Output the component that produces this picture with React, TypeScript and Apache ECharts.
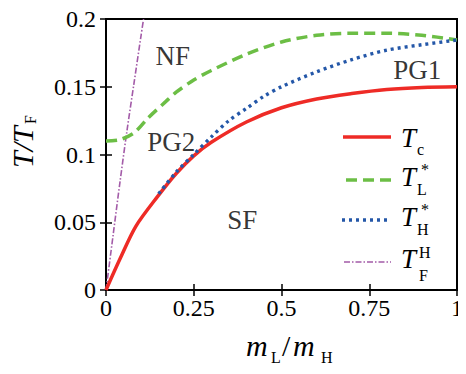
import React, { useEffect, useRef } from "react";
import * as echarts from "echarts";

const xTicks = [0, 0.25, 0.5, 0.75, 1];
const yTicks = [0, 0.05, 0.1, 0.15, 0.2];

const tcData: [number, number][] = [
  [0, 0], [0.04, 0.023], [0.085, 0.047], [0.15, 0.07], [0.2, 0.086], [0.25, 0.099],
  [0.3, 0.109], [0.4, 0.124], [0.5, 0.1345], [0.6, 0.141], [0.7, 0.145],
  [0.8, 0.148], [0.9, 0.1495], [1.0, 0.15],
];
const tlData: [number, number][] = [
  [0, 0.11], [0.04, 0.111], [0.08, 0.116], [0.12, 0.127], [0.17, 0.139], [0.2, 0.146], [0.25, 0.155],
  [0.3, 0.162], [0.4, 0.174], [0.5, 0.183], [0.6, 0.188], [0.7, 0.1895],
  [0.8, 0.1895], [0.9, 0.188], [1.0, 0.1845],
];
const thData: [number, number][] = [
  [0.15, 0.071], [0.2, 0.087], [0.25, 0.1], [0.3, 0.113], [0.35, 0.125], [0.4, 0.134],
  [0.45, 0.143], [0.5, 0.15], [0.6, 0.161], [0.7, 0.17], [0.8, 0.177],
  [0.9, 0.181], [1.0, 0.1845],
];
const tfData: [number, number][] = [
  [0, 0], [0.02, 0.04], [0.04, 0.08], [0.06, 0.118], [0.08, 0.153], [0.1, 0.188], [0.107, 0.2],
];
const regionLabels: { name: string; value: [number, number] }[] = [
  { name: "NF", value: [0.19, 0.173] },
  { name: "PG2", value: [0.186, 0.109] },
  { name: "SF", value: [0.388, 0.052] },
  { name: "PG1", value: [0.887, 0.162] },
];

const RED = "#ee2b26";
const GREEN = "#6cbe45";
const BLUE = "#2457a8";
const PURPLE = "#a35ba8";
const SERIF = "Liberation Serif";

export default function App() {
  const ref = useRef<HTMLDivElement>(null);
  useEffect(() => {
    if (!ref.current) return;
    const chart = echarts.init(ref.current, undefined, { renderer: "svg" });
    const axisLabel = { fontFamily: SERIF, fontSize: 24, color: "#000" };
    const tick = { show: true, inside: true, length: 6, lineStyle: { color: "#000", width: 1.5 } };
    const txt = (text: string, x: number, y: number, size: number, italic = false, extra: any = {}) => ({
      type: "text",
      x,
      y,
      silent: true,
      style: {
        text,
        font: `${italic ? "italic " : ""}${size}px ${SERIF}`,
        fill: "#000",
        textAlign: "left",
        textVerticalAlign: "middle",
        ...extra,
      },
    });
    const legLine = (y: number, x1: number, color: string, width: number, dash: any) => ({
      type: "line",
      silent: true,
      shape: { x1, y1: y, x2: 391, y2: y },
      style: { stroke: color, lineWidth: width, lineDash: dash },
    });
    const legendRows = [137, 180, 220, 262];
    chart.setOption({
      animation: false,
      grid: { left: 106, right: 9, top: 19, bottom: 84, show: true, borderColor: "#000", borderWidth: 2 },
      xAxis: [
        {
          type: "value", min: 0, max: 1, interval: 0.25,
          axisLine: { show: false }, axisTick: tick, splitLine: { show: false },
          axisLabel: { ...axisLabel, margin: 6, formatter: (v: number) => (xTicks.includes(v) ? String(v) : "") },
        },
        {
          type: "value", min: 0, max: 1, interval: 0.25, position: "top",
          axisLine: { show: false }, axisTick: tick, splitLine: { show: false }, axisLabel: { show: false },
        },
      ],
      yAxis: [
        {
          type: "value", min: 0, max: 0.2, interval: 0.05,
          axisLine: { show: false }, axisTick: tick, splitLine: { show: false },
          axisLabel: { ...axisLabel, margin: 10, formatter: (v: number) => (yTicks.some((t) => Math.abs(t - v) < 1e-9) ? String(+v.toFixed(2)) : "") },
        },
        {
          type: "value", min: 0, max: 0.2, interval: 0.05, position: "right",
          axisLine: { show: false }, axisTick: tick, splitLine: { show: false }, axisLabel: { show: false },
        },
      ],
      series: [
        { type: "line", name: "Tc", data: tcData, showSymbol: false, smooth: 0.3, lineStyle: { color: RED, width: 3.5 }, z: 5 },
        { type: "line", name: "TL", data: tlData, showSymbol: false, smooth: 0.3, lineStyle: { color: GREEN, width: 3.5, type: [11, 6] }, z: 4 },
        { type: "line", name: "TH", data: thData, showSymbol: false, smooth: 0.3, lineStyle: { color: BLUE, width: 3.4, type: [3, 4] }, z: 6 },
        { type: "line", name: "TF", data: tfData, showSymbol: false, smooth: 0.3, lineStyle: { color: PURPLE, width: 1.6, type: [6, 2, 1.5, 2] }, z: 3 },
        {
          type: "scatter", data: regionLabels, symbolSize: 0, z: 10,
          label: { show: true, position: "inside", formatter: (p: any) => p.name, fontFamily: SERIF, fontSize: 27, color: "#000" },
        },
      ],
      graphic: [
        legLine(legendRows[0], 343, RED, 3.5, null),
        legLine(legendRows[1], 346, GREEN, 3.5, [11, 6]),
        legLine(legendRows[2], 342, BLUE, 3.4, [3, 4]),
        legLine(legendRows[3], 344, PURPLE, 1.6, [6, 2, 1.5, 2]),
        txt("T", 401, legendRows[0] + 1, 27, true),
        txt("c", 417, legendRows[0] + 12, 16),
        txt("T", 401, legendRows[1] - 3, 27, true),
        txt("*", 421, legendRows[1] - 11, 16),
        txt("L", 417, legendRows[1] + 9, 16),
        txt("T", 401, legendRows[2] - 3, 27, true),
        txt("*", 421, legendRows[2] - 11, 16),
        txt("H", 417, legendRows[2] + 9, 16),
        txt("T", 401, legendRows[3] - 3, 27, true),
        txt("H", 419, legendRows[3] - 10, 16),
        txt("F", 419, legendRows[3] + 13, 16),
        txt("m", 246, 345, 30, true),
        txt("L", 271, 357, 16),
        txt("/", 282, 345, 30, false),
        txt("m", 293, 345, 30, true),
        txt("H", 321, 357, 16),
        {
          type: "group", x: 22, y: 168, rotation: Math.PI / 2,
          children: [
            txt("T/T", 0, 0, 30, true),
            txt("F", 44, 8, 16),
          ],
        },
      ],
    });
    return () => chart.dispose();
  }, []);
  return <div ref={ref} style={{ width: 466, height: 374, margin: -8 }} />;
}
